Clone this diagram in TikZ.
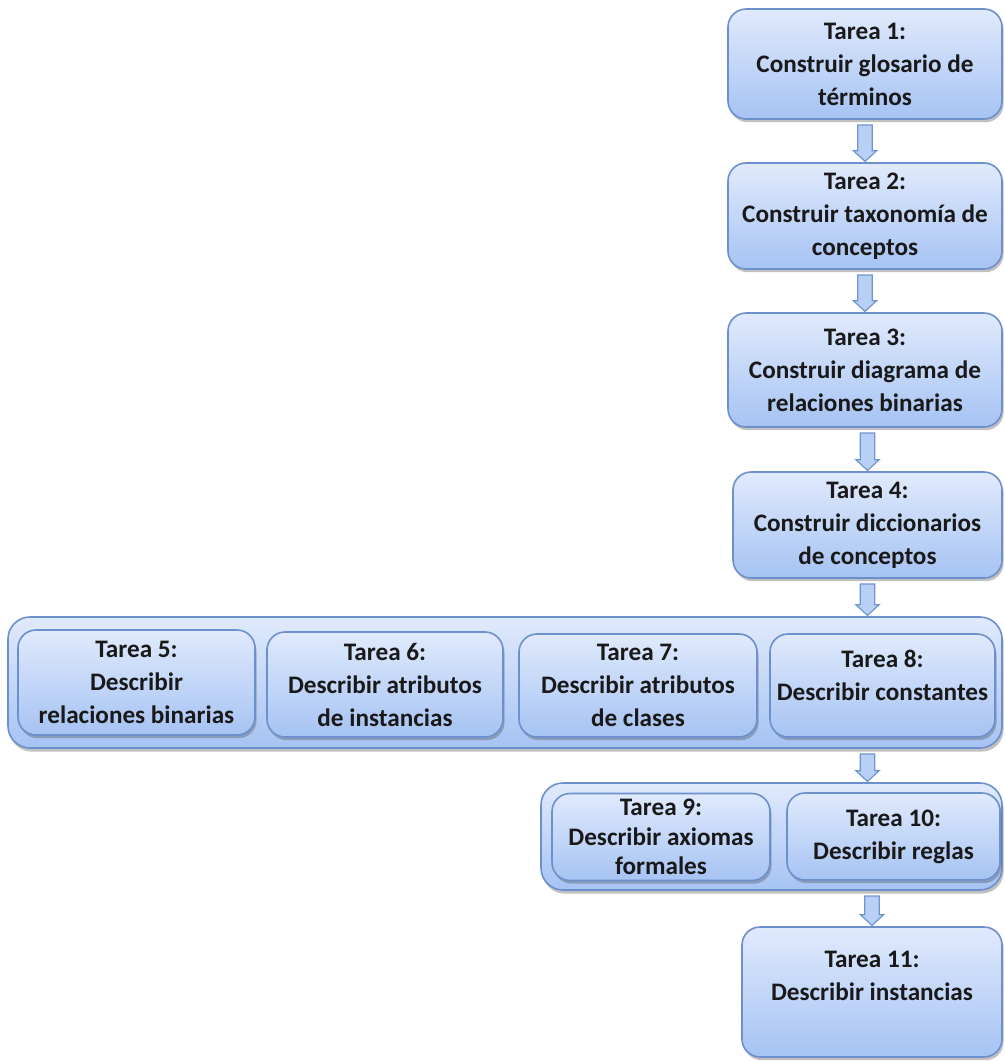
\documentclass[tikz,border=0pt]{standalone}
\usepackage{fontspec}
\setmainfont{Carlito}
\usetikzlibrary{shapes.arrows,shadows,calc}
\definecolor{boxtop}{HTML}{E0EAFC}
\definecolor{boxbot}{HTML}{A6C3F3}
\definecolor{boxline}{HTML}{6C90CC}
\definecolor{arrfill}{HTML}{B9D0F6}
\definecolor{arrline}{HTML}{6F95D0}
\tikzset{
  taskbox/.style={draw=boxline, line width=0.8pt, rounded corners=9pt,
    top color=boxtop, bottom color=boxbot, align=center, inner sep=0pt,
    font=\fontsize{12.6}{16.5}\selectfont\bfseries, text=black!90,
    drop shadow={shadow xshift=0.8pt, shadow yshift=-1.6pt, opacity=0.35, fill=black!70}},
  groupbox/.style={draw=boxline, line width=0.8pt, rounded corners=11pt,
    top color=boxtop, bottom color=boxbot, inner sep=0pt,
    drop shadow={shadow xshift=0.8pt, shadow yshift=-1.8pt, opacity=0.35, fill=black!70}},
  blockarrow/.style={single arrow, draw=arrline, fill=arrfill, line width=0.6pt,
    inner sep=3.3pt, single arrow head extend=2.2pt, single arrow tip angle=95,
    rotate=-90, anchor=tip}
}
\newcommand\flowarrow[2]{%
  \path let \p1=(#1), \p2=(#2) in node[blockarrow, minimum height={\y1-\y2-3pt}] at (\p2) {};}
\begin{document}
\begin{tikzpicture}[x=0.5pt,y=-0.5pt]
\useasboundingbox (0,0) rectangle (1005,1061);
% column boxes
\node[taskbox, minimum width=137pt, minimum height=55pt] (b1) at (865,64) {Tarea 1:\\Construir glosario de\\términos};
\node[taskbox, minimum width=137pt, minimum height=53pt] (b2) at (865,216) {Tarea 2:\\Construir taxonomía de\\conceptos};
\node[taskbox, minimum width=137pt, minimum height=57pt] (b3) at (865,370) {Tarea 3:\\Construir diagrama de\\relaciones binarias};
\node[taskbox, minimum width=134.5pt, minimum height=53pt] (b4) at (867.5,525) {Tarea 4:\\Construir diccionarios\\de conceptos};
% group 1
\node[groupbox, minimum width=497pt, minimum height=65.5pt] (g1) at (505,682.5) {};
\node[taskbox, minimum width=118.5pt, minimum height=52.5pt] (b5) at (136.5,682.5) {Tarea 5:\\Describir\\relaciones binarias};
\node[taskbox, minimum width=118pt, minimum height=52.5pt] (b6) at (385,684.5) {Tarea 6:\\Describir atributos\\de instancias};
\node[taskbox, minimum width=119pt, minimum height=51.5pt] (b7) at (638,685.5) {Tarea 7:\\Describir atributos\\de clases};
\node[taskbox, minimum width=112.5pt, minimum height=51.5pt] (b8) at (882.5,685.5) {Tarea 8:\\Describir constantes\\[-6pt]\mbox{}};
% group 2
\node[groupbox, minimum width=230.5pt, minimum height=53.5pt] (g2) at (771.5,836.5) {};
\node[taskbox, minimum width=109pt, minimum height=43.5pt, font=\fontsize{12.6}{14.8}\selectfont\bfseries] (b9) at (661,837) {Tarea 9:\\Describir axiomas\\formales};
\node[taskbox, minimum width=106.5pt, minimum height=43.5pt] (b10) at (893.5,836.5) {Tarea 10:\\Describir reglas};
% last
\node[taskbox, minimum width=130pt, minimum height=65pt] (b11) at (872,992) {Tarea 11:\\Describir instancias\\\mbox{}};
% arrows
\flowarrow{b1.south}{b2.north}
\flowarrow{b2.south}{b3.north}
\flowarrow{b3.south}{b4.north}
\flowarrow{b4.south}{b4.south |- g1.north}
\flowarrow{b4.south |- g1.south}{b4.south |- g2.north}
\flowarrow{b4.south |- g2.south}{b11.north}
\end{tikzpicture}
\end{document}
